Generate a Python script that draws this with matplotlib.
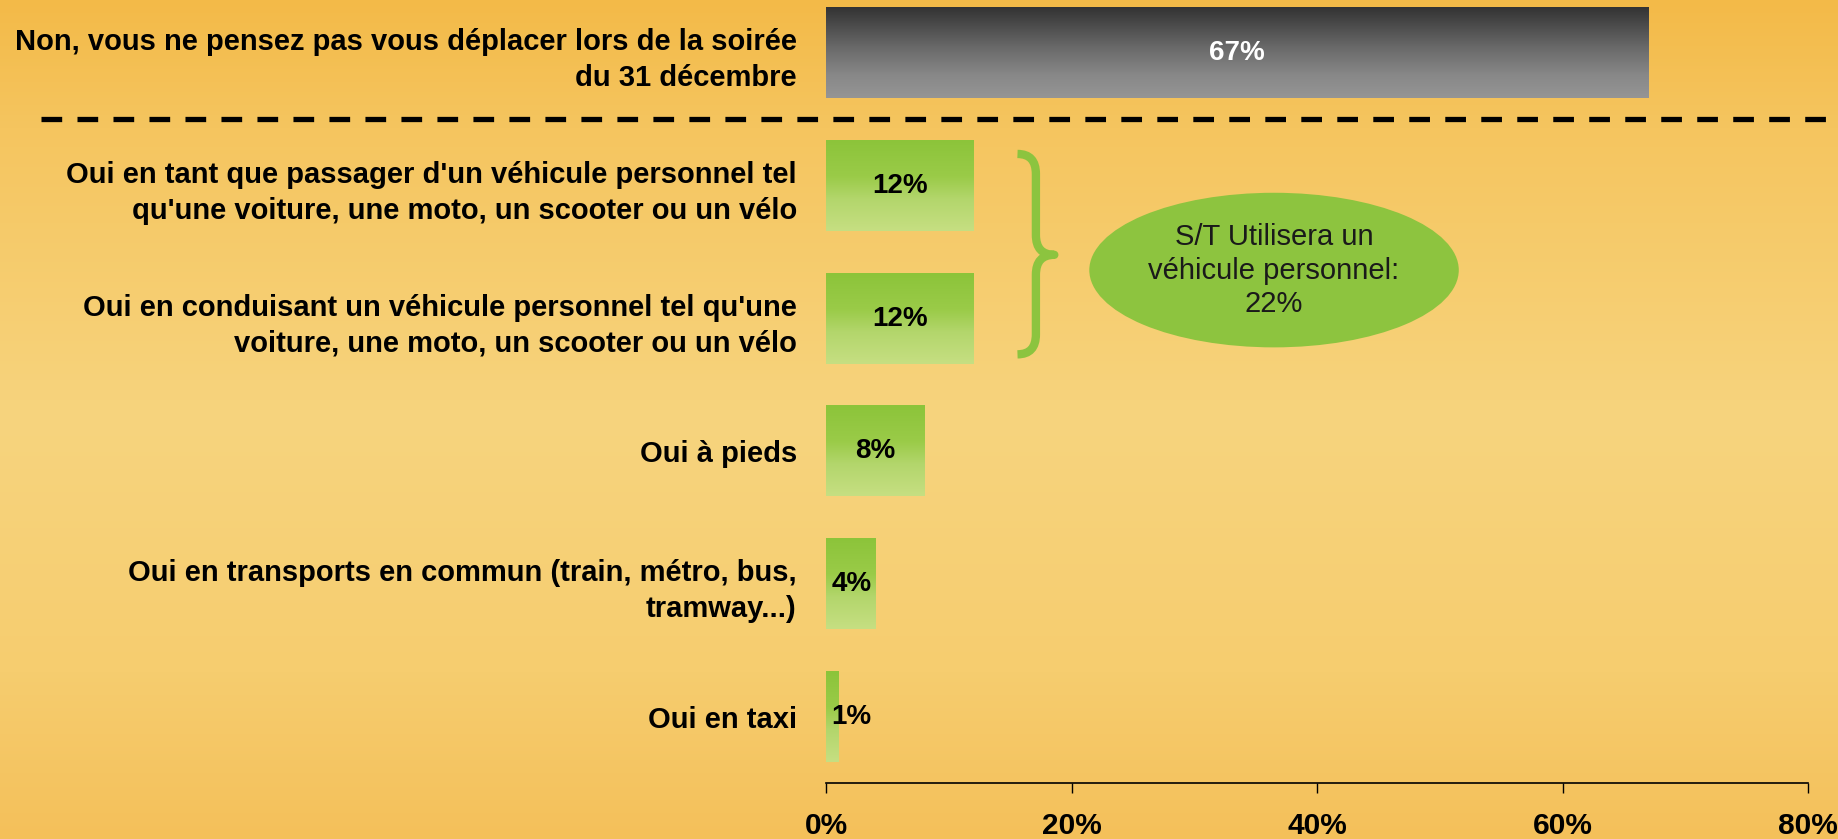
import numpy as np
import matplotlib
matplotlib.use("Agg")
import matplotlib.pyplot as plt
from matplotlib.colors import LinearSegmentedColormap
from matplotlib.patches import Ellipse, PathPatch
from matplotlib.path import Path
from matplotlib.lines import Line2D
from matplotlib.transforms import blended_transform_factory

plt.rcParams["font.family"] = ["Liberation Sans", "DejaVu Sans"]

# -----------------------------
# Data
# -----------------------------
labels = [
    "Non, vous ne pensez pas vous déplacer lors de la soirée\ndu 31 décembre",
    "Oui en tant que passager d'un véhicule personnel tel\nqu'une voiture, une moto, un scooter ou un vélo",
    "Oui en conduisant un véhicule personnel tel qu'une\nvoiture, une moto, un scooter ou un vélo",
    "Oui à pieds",
    "Oui en transports en commun (train, métro, bus,\ntramway...)",
    "Oui en taxi",
]
values = [67, 12, 12, 8, 4, 1]
subtotal_text = "S/T Utilisera un\nvéhicule personnel:\n22%"
xticks = [0, 20, 40, 60, 80]

# -----------------------------
# Colours
# -----------------------------
gray_cmap = LinearSegmentedColormap.from_list(
    "gray", [(0, "#333333"), (0.45, "#6a6a6a"), (0.75, "#888888"), (1, "#959595")])
green_cmap = LinearSegmentedColormap.from_list(
    "green", [(0, "#8cc43a"), (0.4, "#9acb48"), (0.65, "#b3d66c"), (1, "#c6df82")])
bg_cmap = LinearSegmentedColormap.from_list(
    "bg", [(0, "#f3ba48"), (0.15, "#f5c55f"), (0.5, "#f7d47e"), (0.8, "#f6cd6f"), (1, "#f4c05a")])

fig = plt.figure(figsize=(18.38, 8.39), dpi=100)

# background gradient
bg = fig.add_axes([0, 0, 1, 1], zorder=-1)
bg.imshow(np.linspace(0, 1, 256).reshape(-1, 1), cmap=bg_cmap, aspect="auto",
          extent=[0, 1, 0, 1], origin="upper")
bg.set_axis_off()

ax = fig.add_axes([826 / 1838, 56 / 839, 982 / 1838, 783 / 839])
ax.patch.set_alpha(0)

bar_h = 0.68
grad = np.linspace(0, 1, 256).reshape(-1, 1)
for i, v in enumerate(values):
    cmap = gray_cmap if i == 0 else green_cmap
    ax.imshow(grad, cmap=cmap, aspect="auto", interpolation="bicubic",
              extent=[0, v, i + bar_h / 2, i - bar_h / 2], origin="upper", zorder=2)
    if i == 0:
        ax.text(v / 2, i, f"{v}%", ha="center", va="center", color="white",
                fontsize=20, fontweight="bold", zorder=3)
    else:
        ax.text(max(v / 2, 2.1), i, f"{v}%", ha="center", va="center", color="black",
                fontsize=20, fontweight="bold", zorder=3)

ax.set_xlim(0, 80)
ax.set_ylim(5.5, -0.4)

ax.set_yticks(range(len(labels)))
ax.set_yticklabels(labels, fontsize=21, fontweight="bold", linespacing=1.38)
ax.tick_params(axis="y", length=0, pad=21)
ax.set_xticks(xticks)
ax.set_xticklabels([f"{t}%" for t in xticks], fontsize=21.5, fontweight="bold")
ax.tick_params(axis="x", length=7, width=1, direction="out", pad=14)

for s in ["top", "right", "left"]:
    ax.spines[s].set_visible(False)
ax.spines["bottom"].set_linewidth(1.2)

# dashed separator
tr = blended_transform_factory(fig.transFigure, ax.transData)
fig.add_artist(Line2D([41 / 1838, 1.0], [0.5, 0.5], transform=tr, color="black",
                      linewidth=3.8, dashes=(3.92, 2.9)))

# brace
x0, x1, x2 = 15.6, 17.1, 18.6
yt, ym, yb, r = 0.76, 1.52, 2.27, 0.15
verts = [(x0, yt), (x1, yt), (x1, yt + r),
         (x1, ym - r), (x1, ym), (x2, ym),
         (x1, ym), (x1, ym + r),
         (x1, yb - r), (x1, yb), (x0, yb)]
codes = [Path.MOVETO, Path.CURVE3, Path.CURVE3,
         Path.LINETO, Path.CURVE3, Path.CURVE3,
         Path.CURVE3, Path.CURVE3,
         Path.LINETO, Path.CURVE3, Path.CURVE3]
ax.add_patch(PathPatch(Path(verts, codes), fill=False, edgecolor="#8cc43f",
                       linewidth=6, capstyle="butt", joinstyle="round", zorder=3))

# subtotal ellipse
ax.add_patch(Ellipse((36.5, 1.635), 30.1, 1.165, facecolor="#8dc43f", edgecolor="none", zorder=3))
ax.text(36.5, 1.64, subtotal_text, ha="center", va="center", fontsize=21,
        linespacing=1.25, color="#1a1a1a", zorder=4)

fig.savefig("out.png", dpi=100)
